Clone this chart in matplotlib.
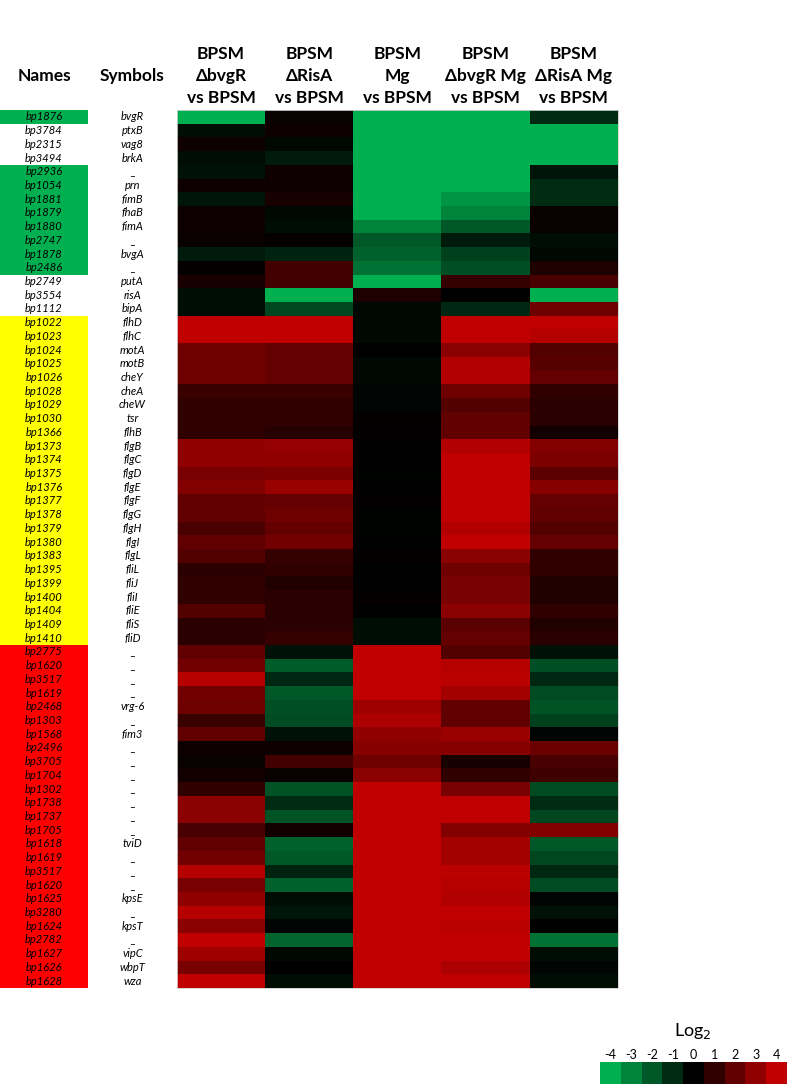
import numpy as np
import matplotlib
matplotlib.use("Agg")
import matplotlib.pyplot as plt
from matplotlib.colors import LinearSegmentedColormap, ListedColormap
from matplotlib import transforms

plt.rcParams['font.family'] = ['Lato', 'DejaVu Sans']

# --- data ---
names = ["bp1876", "bp3784", "bp2315", "bp3494", "bp2936", "bp1054", "bp1881", "bp1879",
         "bp1880", "bp2747", "bp1878", "bp2486", "bp2749", "bp3554", "bp1112",
         "bp1022", "bp1023", "bp1024", "bp1025", "bp1026", "bp1028", "bp1029", "bp1030",
         "bp1366", "bp1373", "bp1374", "bp1375", "bp1376", "bp1377", "bp1378", "bp1379",
         "bp1380", "bp1383", "bp1395", "bp1399", "bp1400", "bp1404", "bp1409", "bp1410",
         "bp2775", "bp1620", "bp3517", "bp1619", "bp2468", "bp1303", "bp1568", "bp2496",
         "bp3705", "bp1704", "bp1302", "bp1738", "bp1737", "bp1705", "bp1618", "bp1619",
         "bp3517", "bp1620", "bp1625", "bp3280", "bp1624", "bp2782", "bp1627", "bp1626",
         "bp1628"]

symbols = ["bvgR", "ptxB", "vag8", "brkA", "_", "prn", "fimB", "fhaB",
           "fimA", "_", "bvgA", "_", "putA", "risA", "bipA",
           "flhD", "flhC", "motA", "motB", "cheY", "cheA", "cheW", "tsr",
           "flhB", "flgB", "flgC", "flgD", "flgE", "flgF", "flgG", "flgH",
           "flgI", "flgL", "fliL", "fliJ", "fliI", "fliE", "fliS", "fliD",
           "_", "_", "_", "_", "vrg-6", "_", "fim3", "_",
           "_", "_", "_", "_", "_", "_", "tviD", "_",
           "_", "_", "kpsE", "_", "kpsT", "_", "vipC", "wbpT",
           "wza"]

# 0 = white, 1 = green, 2 = yellow, 3 = red
name_group = [1, 0, 0, 0, 1, 1, 1, 1, 1, 1, 1, 1, 0, 0, 0] + [2] * 24 + [3] * 25

headers = ["BPSM\n\u0394bvgR\nvs BPSM", "BPSM\n\u0394RisA\nvs BPSM", "BPSM\nMg\nvs BPSM",
           "BPSM\n\u0394bvgR Mg\nvs BPSM", "BPSM\n\u0394RisA Mg\nvs BPSM"]

# log2 fold changes, one list per comparison
dbvgR = [-4, -0.3, 0.3, -0.3, -0.4, 0.3, -0.5, 0.3, 0.3, 0.2, -0.6, 0.1, 0.5, -0.3, -0.3,
         4, 4, 2.3, 2.3, 2.3, 1.2, 1.0, 1.0, 1.0, 3.0, 3.0, 2.5, 2.7, 2.0, 2.0, 1.5,
         2.0, 1.7, 0.9, 1.0, 1.0, 1.7, 0.9, 0.9,
         2.0, 2.4, 3.8, 2.4, 2.3, 1.2, 2.0, 0.3, 0.2, 0.4, 1.0, 2.9, 2.9, 1.5, 2.0, 2.4,
         3.8, 2.5, 3.0, 3.8, 2.9, 4, 3.3, 2.5, 4]
dRisA = [0.2, 0.3, -0.2, -0.6, 0.3, 0.3, 0.5, -0.2, -0.3, 0.1, -0.8, 1.4, 1.4, -4, -1.6,
         4, 4, 2.1, 2.1, 2.1, 1.2, 1.0, 1.0, 0.8, 3.1, 3.0, 2.6, 3.2, 2.1, 2.3, 2.1,
         2.4, 1.1, 1.0, 0.7, 0.9, 0.9, 0.9, 1.1,
         -0.4, -2.1, -0.9, -2.0, -1.8, -1.7, -0.4, 0.3, 1.4, 0.2, -1.9, -1.0, -1.9, 0.4, -2.2, -2.0,
         -0.8, -2.2, -0.3, -0.5, -0.1, -2.3, -0.2, 0.0, -0.3]
mg = [-4, -4, -4, -4, -4, -4, -4, -4, -3.0, -2.0, -2.2, -2.6, -4, 0.6, -0.2,
      -0.2, -0.2, 0.0, -0.2, -0.2, -0.1, -0.1, 0.1, 0.05, 0.0, 0.0, -0.05, 0.0, 0.05, -0.05, -0.05,
      0.0, 0.1, 0.0, 0.0, 0.1, 0.0, -0.3, -0.3,
      4, 4, 4, 4, 3.3, 3.6, 3.0, 2.8, 2.3, 2.9, 4, 4, 4, 4, 4, 4,
      4, 4, 4, 4, 4, 4, 4, 4, 4]
dbvgR_mg = [-4, -4, -4, -4, -4, -4, -3.4, -3.0, -2.0, -0.6, -1.5, -1.8, 1.1, 0.0, -0.9,
            4, 4, 2.9, 3.7, 3.7, 2.3, 1.7, 2.0, 2.0, 3.7, 4, 4, 4, 4, 4, 3.7,
            4, 2.9, 2.3, 2.5, 2.5, 2.9, 1.9, 2.1,
            1.7, 3.8, 3.9, 3.4, 2.0, 2.0, 3.2, 2.8, 0.5, 1.0, 2.5, 4, 4, 2.7, 3.4, 3.4,
            3.9, 3.8, 3.7, 4, 3.9, 4, 4, 3.6, 4]
dRisA_mg = [-1.0, -4, -4, -4, -0.5, -1.0, -1.0, 0.2, 0.2, -0.3, -0.2, 0.6, 1.5, -4, 2.3,
            4, 3.8, 1.7, 1.8, 2.1, 1.0, 0.9, 0.9, 0.4, 2.7, 2.6, 1.9, 2.8, 2.1, 2.0, 1.7,
            2.1, 1.0, 1.0, 0.7, 0.7, 1.0, 0.7, 0.9,
            -0.4, -1.8, -0.9, -1.7, -1.9, -1.5, -0.1, 2.2, 1.5, 1.3, -1.7, -1.0, -1.6, 2.7, -2.0, -1.6,
            -0.9, -1.7, -0.1, -0.4, 0.0, -2.6, -0.3, -0.1, -0.3]

legend_vals = [-4, -3, -2, -1, 0, 1, 2, 3, 4]

values = np.column_stack([dbvgR, dRisA, mg, dbvgR_mg, dRisA_mg])
n = len(names)

cmap = LinearSegmentedColormap.from_list("gbr", ["#00B050", "#000000", "#C00000"])
group_cmap = ListedColormap(["#FFFFFF", "#00B050", "#FFFF00", "#FF0000"])

W, H = 787, 1084
fig = plt.figure(figsize=(W / 100, H / 100), dpi=100)


def px_axes(x0, y0, x1, y1):
    return fig.add_axes([x0 / W, 1 - y1 / H, (x1 - x0) / W, (y1 - y0) / H])


# heatmap
ax = px_axes(177, 110, 618, 988)
ax.imshow(values, cmap=cmap, vmin=-4, vmax=4, aspect="auto", interpolation="nearest")
ax.set_xticks([])
ax.set_yticks([])
for s in ax.spines.values():
    s.set_color("#d0d0d0")
    s.set_linewidth(0.6)

# column headers
tr = transforms.blended_transform_factory(ax.transData, fig.transFigure)
for j, h in enumerate(headers):
    ax.text(j, 1 - 76 / H, h, transform=tr, ha="center", va="center",
            fontsize=12.5, fontweight="bold", linespacing=1.45)

# names column
axn = px_axes(0, 110, 88, 988)
axn.imshow(np.array(name_group).reshape(-1, 1), cmap=group_cmap, vmin=-0.5, vmax=3.5,
           aspect="auto", interpolation="nearest")
axn.axis("off")
for i, nm in enumerate(names):
    axn.text(0, i, nm, ha="center", va="center", fontsize=8, style="italic")
axn.text(0, 1 - 76 / H, "Names", transform=transforms.blended_transform_factory(axn.transData, fig.transFigure),
         ha="center", va="center", fontsize=12.5, fontweight="bold")

# symbols column
axs = px_axes(88, 110, 177, 988)
axs.set_xlim(0, 1)
axs.set_ylim(n - 0.5, -0.5)
axs.axis("off")
for i, sy in enumerate(symbols):
    axs.text(0.5, i, sy, ha="center", va="center", fontsize=8, style="italic")
axs.text(0.5, 1 - 76 / H, "Symbols", transform=transforms.blended_transform_factory(axs.transData, fig.transFigure),
         ha="center", va="center", fontsize=12.5, fontweight="bold")

# legend
axl = px_axes(600, 1062, 787, 1084)
axl.imshow(np.array(legend_vals).reshape(1, -1), cmap=cmap, vmin=-4, vmax=4,
           aspect="auto", interpolation="nearest")
axl.set_yticks([])
axl.set_xticks(range(len(legend_vals)))
axl.set_xticklabels([str(v) for v in legend_vals], fontsize=9)
axl.xaxis.tick_top()
axl.tick_params(axis="x", length=0, pad=1)
for s in axl.spines.values():
    s.set_visible(False)
fig.text(693 / W, 1 - 1031 / H, "Log$_2$", ha="center", va="center", fontsize=13)

fig.savefig("out.png", dpi=100)
